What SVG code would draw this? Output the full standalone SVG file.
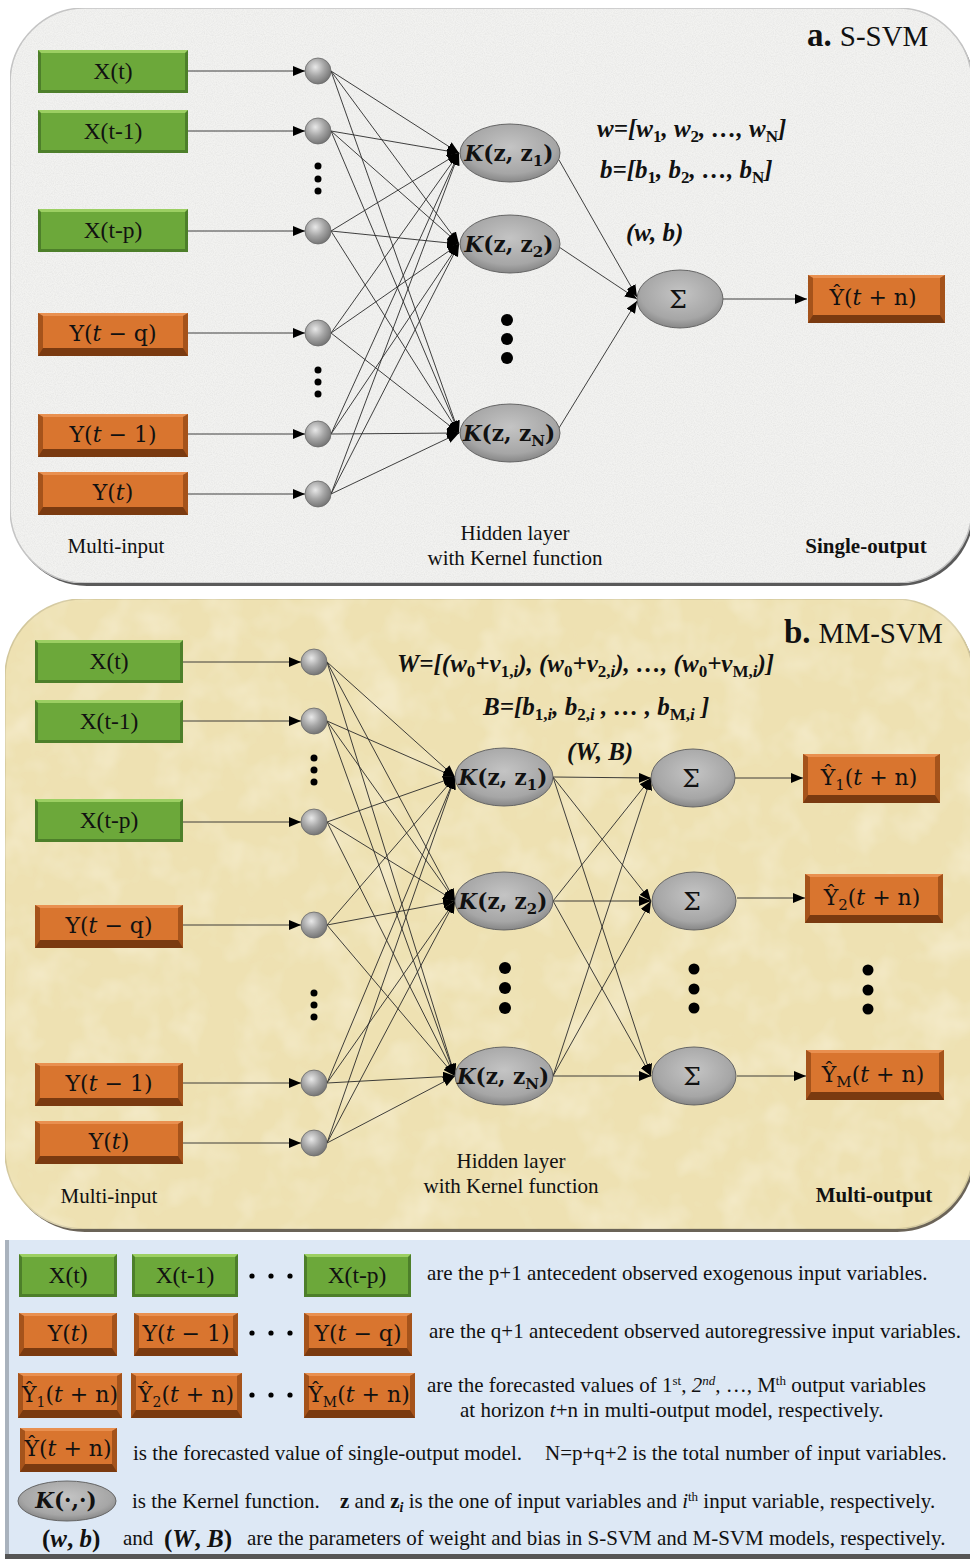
<svg xmlns="http://www.w3.org/2000/svg" width="970" height="1559" viewBox="0 0 970 1559">
<defs>
<radialGradient id="sph" cx="0.4" cy="0.35" r="0.7">
<stop offset="0" stop-color="#e8e8e8"/><stop offset="0.5" stop-color="#a5a5a5"/><stop offset="1" stop-color="#6f6f6f"/>
</radialGradient>
<radialGradient id="ell" cx="0.5" cy="0.4" r="0.65">
<stop offset="0" stop-color="#c4c4c4"/><stop offset="0.7" stop-color="#a6a6a6"/><stop offset="1" stop-color="#7c7c7c"/>
</radialGradient>
<marker id="ar" markerUnits="userSpaceOnUse" markerWidth="13" markerHeight="10" refX="12" refY="5" orient="auto">
<path d="M0,0 L12,5 L0,10 z" fill="#000"/>
</marker>
<filter id="grain" x="0" y="0" width="100%" height="100%">
<feTurbulence type="fractalNoise" baseFrequency="0.9" numOctaves="2" seed="3" result="n"/>
<feColorMatrix type="matrix" values="0 0 0 0 0.6  0 0 0 0 0.6  0 0 0 0 0.6  0 0 0 0.6 -0.22" in="n" result="g"/>
<feComposite in="g" in2="SourceGraphic" operator="in" result="gi"/>
<feMerge><feMergeNode in="SourceGraphic"/><feMergeNode in="gi"/></feMerge>
</filter>
<filter id="parch" x="0" y="0" width="100%" height="100%">
<feTurbulence type="fractalNoise" baseFrequency="0.025" numOctaves="3" seed="7" result="n"/>
<feColorMatrix type="matrix" values="0 0 0 0 1  0 0 0 0 0.96  0 0 0 0 0.84  0 0 0 0.7 -0.3" in="n" result="g"/>
<feComposite in="g" in2="SourceGraphic" operator="in" result="gi"/>
<feMerge><feMergeNode in="SourceGraphic"/><feMergeNode in="gi"/></feMerge>
</filter>
</defs>
<style>
.t{font-family:"Liberation Serif","Times New Roman",serif;fill:#111}
.m{font-family:"DejaVu Serif","Liberation Serif",serif;fill:#111}
.bl{font-size:23.5px;text-anchor:middle}
.ol{font-size:22px;text-anchor:middle}
.kl{font-size:21.5px;text-anchor:middle;font-weight:bold}
.sg{font-size:25px;text-anchor:middle}
.fm{font-size:25px;font-weight:bold;font-style:italic}
.lab{font-size:21px}
.lg{font-size:21px}
.g-e{fill:#4d7f2a}.g-t{fill:#9ccf62}.g-f{fill:#6ca83a}
.o-e{fill:#7a3a10}.o-s{fill:#a5531b}.o-t{fill:#e99050}.o-f{fill:#d9752f}
.sp{fill:url(#sph);stroke:#6a6a6a;stroke-width:0.8}
.el{fill:url(#ell);stroke:#666;stroke-width:1}
.dot{fill:#000}
.cn line{stroke:#2a2a2a;stroke-width:0.9;marker-end:url(#ar)}
</style>

<!-- Panel backgrounds -->
<rect x="12" y="11" width="962" height="575" rx="75" fill="#5a5a5a"/>
<rect x="10" y="8" width="962" height="575" rx="75" fill="#f2f2f0" stroke="#c4c4c4" stroke-width="1.5" filter="url(#grain)"/>
<rect x="7" y="602" width="968" height="630" rx="78" fill="#6b6458"/>
<rect x="5" y="599" width="968" height="630" rx="78" fill="#eee1b2" stroke="#d2c79c" stroke-width="1.5" filter="url(#parch)"/>
<rect x="5" y="1240" width="966" height="319" fill="#dde8f5"/>
<rect x="5" y="1240" width="4" height="319" fill="#a9b2bd"/>
<rect x="5" y="1554" width="966" height="5" fill="#555"/>

<!-- ================= Panel a connectors ================= -->
<g id="connectors-a" class="cn">
<line x1="188" y1="71" x2="305" y2="71"/>
<line x1="188" y1="131" x2="305" y2="131"/>
<line x1="188" y1="231" x2="305" y2="231"/>
<line x1="188" y1="333" x2="305" y2="333"/>
<line x1="188" y1="434" x2="305" y2="434"/>
<line x1="188" y1="494" x2="305" y2="494"/>
<line x1="331" y1="71" x2="459" y2="153"/><line x1="331" y1="71" x2="459" y2="244"/><line x1="331" y1="71" x2="459" y2="433"/>
<line x1="331" y1="131" x2="459" y2="153"/><line x1="331" y1="131" x2="459" y2="244"/><line x1="331" y1="131" x2="459" y2="433"/>
<line x1="331" y1="231" x2="459" y2="153"/><line x1="331" y1="231" x2="459" y2="244"/><line x1="331" y1="231" x2="459" y2="433"/>
<line x1="331" y1="333" x2="459" y2="153"/><line x1="331" y1="333" x2="459" y2="244"/><line x1="331" y1="333" x2="459" y2="433"/>
<line x1="331" y1="434" x2="459" y2="153"/><line x1="331" y1="434" x2="459" y2="244"/><line x1="331" y1="434" x2="459" y2="433"/>
<line x1="331" y1="494" x2="459" y2="153"/><line x1="331" y1="494" x2="459" y2="244"/><line x1="331" y1="494" x2="459" y2="433"/>
<line x1="559" y1="160" x2="637" y2="297"/>
<line x1="559" y1="247" x2="637" y2="299"/>
<line x1="559" y1="428" x2="637" y2="301"/>
<line x1="723" y1="299" x2="807" y2="299"/>
</g>

<!-- Panel a nodes -->
<g id="a-x-t"><rect class="g-e" x="38" y="50" width="150" height="43"/><path class="g-t" d="M38,50 H188 L185,53 H41 z"/><rect class="g-f" x="41" y="53" width="144" height="37"/><text class="t bl" x="113" y="79">X(t)</text></g>
<g id="a-x-t1"><rect class="g-e" x="38" y="110" width="150" height="43"/><path class="g-t" d="M38,110 H188 L185,113 H41 z"/><rect class="g-f" x="41" y="113" width="144" height="37"/><text class="t bl" x="113" y="139">X(t-1)</text></g>
<g id="a-x-tp"><rect class="g-e" x="38" y="209" width="150" height="43"/><path class="g-t" d="M38,209 H188 L185,212 H41 z"/><rect class="g-f" x="41" y="212" width="144" height="37"/><text class="t bl" x="113" y="238">X(t-p)</text></g>
<g id="a-y-tq"><rect class="o-e" x="38" y="313" width="150" height="43"/><path class="o-s" d="M38,313 L43,316 V348 L38,356 z M188,313 L183,316 V348 L188,356 z"/><path class="o-t" d="M38,313 H188 L183,316 H43 z"/><rect class="o-f" x="43" y="316" width="140" height="32"/><text class="m ol" x="113" y="341">Y(<tspan font-style="italic">t</tspan> − q)</text></g>
<g id="a-y-t1"><rect class="o-e" x="38" y="414" width="150" height="43"/><path class="o-s" d="M38,414 L43,417 V449 L38,457 z M188,414 L183,417 V449 L188,457 z"/><path class="o-t" d="M38,414 H188 L183,417 H43 z"/><rect class="o-f" x="43" y="417" width="140" height="32"/><text class="m ol" x="113" y="442">Y(<tspan font-style="italic">t</tspan> − 1)</text></g>
<g id="a-y-t"><rect class="o-e" x="38" y="472" width="150" height="43"/><path class="o-s" d="M38,472 L43,475 V507 L38,515 z M188,472 L183,475 V507 L188,515 z"/><path class="o-t" d="M38,472 H188 L183,475 H43 z"/><rect class="o-f" x="43" y="475" width="140" height="32"/><text class="m ol" x="113" y="500">Y(<tspan font-style="italic">t</tspan>)</text></g>

<g id="a-in1"><circle class="sp" cx="318" cy="71" r="13"/></g>
<g id="a-in2"><circle class="sp" cx="318" cy="131" r="13"/></g>
<g id="a-in3"><circle class="sp" cx="318" cy="231" r="13"/></g>
<g id="a-in4"><circle class="sp" cx="318" cy="333" r="13"/></g>
<g id="a-in5"><circle class="sp" cx="318" cy="434" r="13"/></g>
<g id="a-in6"><circle class="sp" cx="318" cy="494" r="13"/></g>
<g id="a-dots">
<circle class="dot" cx="318" cy="166" r="3.5"/><circle class="dot" cx="318" cy="179" r="3.5"/><circle class="dot" cx="318" cy="191" r="3.5"/>
<circle class="dot" cx="318" cy="370" r="3.5"/><circle class="dot" cx="318" cy="382" r="3.5"/><circle class="dot" cx="318" cy="394" r="3.5"/>
<circle class="dot" cx="507" cy="320" r="6"/><circle class="dot" cx="507" cy="339" r="6"/><circle class="dot" cx="507" cy="358" r="6"/>
</g>

<g id="a-k1"><ellipse class="el" cx="510" cy="153" rx="50" ry="29"/><text class="m kl" x="509" y="161"><tspan font-style="italic">K</tspan>(z, z<tspan font-size="15" dy="5">1</tspan><tspan dy="-5">)</tspan></text></g>
<g id="a-k2"><ellipse class="el" cx="510" cy="244" rx="50" ry="29"/><text class="m kl" x="509" y="252"><tspan font-style="italic">K</tspan>(z, z<tspan font-size="15" dy="5">2</tspan><tspan dy="-5">)</tspan></text></g>
<g id="a-kN"><ellipse class="el" cx="510" cy="433" rx="50" ry="29"/><text class="m kl" x="509" y="441"><tspan font-style="italic">K</tspan>(z, z<tspan font-size="15" dy="5">N</tspan><tspan dy="-5">)</tspan></text></g>
<g id="a-sum"><ellipse class="el" cx="680" cy="299" rx="43" ry="29"/><text class="m sg" x="678" y="308">Σ</text></g>
<g id="a-out"><rect class="o-e" x="808" y="275" width="137" height="48"/><path class="o-s" d="M808,275 L813,278 V315 L808,323 z M945,275 L940,278 V315 L945,323 z"/><path class="o-t" d="M808,275 H945 L940,278 H813 z"/><rect class="o-f" x="813" y="278" width="127" height="37"/><text class="m ol" x="873" y="305" font-size="23">Ŷ(<tspan font-style="italic">t</tspan> + n)</text></g>

<g id="a-labels">
<text class="t" x="807" y="46"><tspan font-weight="bold" font-size="33">a.</tspan><tspan font-size="29" dx="8">S-SVM</tspan></text>
<text class="t fm" x="597" y="137">w=[w<tspan font-size="17" font-style="normal" dy="5">1</tspan><tspan dy="-5">, w</tspan><tspan font-size="17" font-style="normal" dy="5">2</tspan><tspan dy="-5">, …, w</tspan><tspan font-size="17" font-style="normal" dy="5">N</tspan><tspan dy="-5">]</tspan></text>
<text class="t fm" x="600" y="178">b=[b<tspan font-size="17" font-style="normal" dy="5">1</tspan><tspan dy="-5">, b</tspan><tspan font-size="17" font-style="normal" dy="5">2</tspan><tspan dy="-5">, …, b</tspan><tspan font-size="17" font-style="normal" dy="5">N</tspan><tspan dy="-5">]</tspan></text>
<text class="t fm" x="626" y="241">(w, b)</text>
<text class="t lab" x="116" y="553" text-anchor="middle">Multi-input</text>
<text class="t lab" x="515" y="540" text-anchor="middle">Hidden layer</text>
<text class="t lab" x="515" y="565" text-anchor="middle">with Kernel function</text>
<text class="t lab" x="866" y="553" text-anchor="middle" font-weight="bold">Single-output</text>
</g>

<!-- ================= Panel b connectors ================= -->
<g id="connectors-b" class="cn">
<line x1="183" y1="662" x2="301" y2="662"/>
<line x1="183" y1="721" x2="301" y2="721"/>
<line x1="183" y1="822" x2="301" y2="822"/>
<line x1="183" y1="925" x2="301" y2="925"/>
<line x1="183" y1="1083" x2="301" y2="1083"/>
<line x1="183" y1="1143" x2="301" y2="1143"/>
<line x1="327" y1="662" x2="455" y2="777"/><line x1="327" y1="662" x2="455" y2="901"/><line x1="327" y1="662" x2="455" y2="1076"/>
<line x1="327" y1="721" x2="455" y2="777"/><line x1="327" y1="721" x2="455" y2="901"/><line x1="327" y1="721" x2="455" y2="1076"/>
<line x1="327" y1="822" x2="455" y2="777"/><line x1="327" y1="822" x2="455" y2="901"/><line x1="327" y1="822" x2="455" y2="1076"/>
<line x1="327" y1="925" x2="455" y2="777"/><line x1="327" y1="925" x2="455" y2="901"/><line x1="327" y1="925" x2="455" y2="1076"/>
<line x1="327" y1="1083" x2="455" y2="777"/><line x1="327" y1="1083" x2="455" y2="901"/><line x1="327" y1="1083" x2="455" y2="1076"/>
<line x1="327" y1="1143" x2="455" y2="777"/><line x1="327" y1="1143" x2="455" y2="901"/><line x1="327" y1="1143" x2="455" y2="1076"/>
<line x1="553" y1="777" x2="651" y2="778"/><line x1="553" y1="777" x2="651" y2="901"/><line x1="553" y1="777" x2="651" y2="1076"/>
<line x1="553" y1="901" x2="651" y2="778"/><line x1="553" y1="901" x2="651" y2="901"/><line x1="553" y1="901" x2="651" y2="1076"/>
<line x1="553" y1="1076" x2="651" y2="778"/><line x1="553" y1="1076" x2="651" y2="901"/><line x1="553" y1="1076" x2="651" y2="1076"/>
<line x1="735" y1="778" x2="803" y2="778"/>
<line x1="737" y1="898" x2="805" y2="898"/>
<line x1="737" y1="1076" x2="806" y2="1076"/>
</g>

<!-- Panel b nodes -->
<g id="b-x-t"><rect class="g-e" x="35" y="640" width="148" height="43"/><path class="g-t" d="M35,640 H183 L180,643 H38 z"/><rect class="g-f" x="38" y="643" width="142" height="37"/><text class="t bl" x="109" y="669">X(t)</text></g>
<g id="b-x-t1"><rect class="g-e" x="35" y="700" width="148" height="43"/><path class="g-t" d="M35,700 H183 L180,703 H38 z"/><rect class="g-f" x="38" y="703" width="142" height="37"/><text class="t bl" x="109" y="729">X(t-1)</text></g>
<g id="b-x-tp"><rect class="g-e" x="35" y="799" width="148" height="43"/><path class="g-t" d="M35,799 H183 L180,802 H38 z"/><rect class="g-f" x="38" y="802" width="142" height="37"/><text class="t bl" x="109" y="828">X(t-p)</text></g>
<g id="b-y-tq"><rect class="o-e" x="35" y="905" width="148" height="43"/><path class="o-s" d="M35,905 L40,908 V940 L35,948 z M183,905 L178,908 V940 L183,948 z"/><path class="o-t" d="M35,905 H183 L178,908 H40 z"/><rect class="o-f" x="40" y="908" width="138" height="32"/><text class="m ol" x="109" y="933">Y(<tspan font-style="italic">t</tspan> − q)</text></g>
<g id="b-y-t1"><rect class="o-e" x="35" y="1063" width="148" height="43"/><path class="o-s" d="M35,1063 L40,1066 V1098 L35,1106 z M183,1063 L178,1066 V1098 L183,1106 z"/><path class="o-t" d="M35,1063 H183 L178,1066 H40 z"/><rect class="o-f" x="40" y="1066" width="138" height="32"/><text class="m ol" x="109" y="1091">Y(<tspan font-style="italic">t</tspan> − 1)</text></g>
<g id="b-y-t"><rect class="o-e" x="35" y="1121" width="148" height="43"/><path class="o-s" d="M35,1121 L40,1124 V1156 L35,1164 z M183,1121 L178,1124 V1156 L183,1164 z"/><path class="o-t" d="M35,1121 H183 L178,1124 H40 z"/><rect class="o-f" x="40" y="1124" width="138" height="32"/><text class="m ol" x="109" y="1149">Y(<tspan font-style="italic">t</tspan>)</text></g>

<g id="b-in1"><circle class="sp" cx="314" cy="662" r="13"/></g>
<g id="b-in2"><circle class="sp" cx="314" cy="721" r="13"/></g>
<g id="b-in3"><circle class="sp" cx="314" cy="822" r="13"/></g>
<g id="b-in4"><circle class="sp" cx="314" cy="925" r="13"/></g>
<g id="b-in5"><circle class="sp" cx="314" cy="1083" r="13"/></g>
<g id="b-in6"><circle class="sp" cx="314" cy="1143" r="13"/></g>
<g id="b-dots">
<circle class="dot" cx="314" cy="758" r="3.5"/><circle class="dot" cx="314" cy="770" r="3.5"/><circle class="dot" cx="314" cy="782" r="3.5"/>
<circle class="dot" cx="314" cy="993" r="3.5"/><circle class="dot" cx="314" cy="1005" r="3.5"/><circle class="dot" cx="314" cy="1017" r="3.5"/>
<circle class="dot" cx="505" cy="968" r="6"/><circle class="dot" cx="505" cy="988" r="6"/><circle class="dot" cx="505" cy="1008" r="6"/>
<circle class="dot" cx="694" cy="969" r="5.5"/><circle class="dot" cx="694" cy="989" r="5.5"/><circle class="dot" cx="694" cy="1008" r="5.5"/>
<circle class="dot" cx="868" cy="970" r="5.5"/><circle class="dot" cx="868" cy="990" r="5.5"/><circle class="dot" cx="868" cy="1009" r="5.5"/>
</g>

<g id="b-k1"><ellipse class="el" cx="504" cy="777" rx="49" ry="29"/><text class="m kl" x="503" y="785"><tspan font-style="italic">K</tspan>(z, z<tspan font-size="15" dy="5">1</tspan><tspan dy="-5">)</tspan></text></g>
<g id="b-k2"><ellipse class="el" cx="504" cy="901" rx="49" ry="29"/><text class="m kl" x="503" y="909"><tspan font-style="italic">K</tspan>(z, z<tspan font-size="15" dy="5">2</tspan><tspan dy="-5">)</tspan></text></g>
<g id="b-kN"><ellipse class="el" cx="504" cy="1076" rx="49" ry="29"/><text class="m kl" x="503" y="1084"><tspan font-style="italic">K</tspan>(z, z<tspan font-size="15" dy="5">N</tspan><tspan dy="-5">)</tspan></text></g>
<g id="b-s1"><ellipse class="el" cx="693" cy="778" rx="42" ry="29"/><text class="m sg" x="691" y="787">Σ</text></g>
<g id="b-s2"><ellipse class="el" cx="694" cy="901" rx="42" ry="29"/><text class="m sg" x="692" y="910">Σ</text></g>
<g id="b-sM"><ellipse class="el" cx="694" cy="1076" rx="42" ry="29"/><text class="m sg" x="692" y="1085">Σ</text></g>
<g id="b-o1"><rect class="o-e" x="803" y="754" width="137" height="49"/><path class="o-s" d="M803,754 L808,757 V795 L803,803 z M940,754 L935,757 V795 L940,803 z"/><path class="o-t" d="M803,754 H940 L935,757 H808 z"/><rect class="o-f" x="808" y="757" width="127" height="38"/><text class="m ol" x="869" y="785" font-size="23">Ŷ<tspan font-size="15" dy="5">1</tspan><tspan dy="-5">(</tspan><tspan font-style="italic">t</tspan> + n)</text></g>
<g id="b-o2"><rect class="o-e" x="805" y="874" width="138" height="49"/><path class="o-s" d="M805,874 L810,877 V915 L805,923 z M943,874 L938,877 V915 L943,923 z"/><path class="o-t" d="M805,874 H943 L938,877 H810 z"/><rect class="o-f" x="810" y="877" width="128" height="38"/><text class="m ol" x="872" y="905" font-size="23">Ŷ<tspan font-size="15" dy="5">2</tspan><tspan dy="-5">(</tspan><tspan font-style="italic">t</tspan> + n)</text></g>
<g id="b-oM"><rect class="o-e" x="806" y="1050" width="138" height="50"/><path class="o-s" d="M806,1050 L811,1053 V1092 L806,1100 z M944,1050 L939,1053 V1092 L944,1100 z"/><path class="o-t" d="M806,1050 H944 L939,1053 H811 z"/><rect class="o-f" x="811" y="1053" width="128" height="39"/><text class="m ol" x="873" y="1082" font-size="23">Ŷ<tspan font-size="15" dy="5">M</tspan><tspan dy="-5">(</tspan><tspan font-style="italic">t</tspan> + n)</text></g>

<g id="b-labels">
<text class="t" x="784" y="643"><tspan font-weight="bold" font-size="33">b.</tspan><tspan font-size="29" dx="8">MM-SVM</tspan></text>
<text class="t fm" x="397" y="672">W=[(w<tspan font-size="17" font-style="normal" dy="5">0</tspan><tspan dy="-5">+v</tspan><tspan font-size="17" dy="5"><tspan font-style="normal">1,</tspan>i</tspan><tspan dy="-5">), (w</tspan><tspan font-size="17" font-style="normal" dy="5">0</tspan><tspan dy="-5">+v</tspan><tspan font-size="17" dy="5"><tspan font-style="normal">2,</tspan>i</tspan><tspan dy="-5">), …, (w</tspan><tspan font-size="17" font-style="normal" dy="5">0</tspan><tspan dy="-5">+v</tspan><tspan font-size="17" dy="5"><tspan font-style="normal">M,</tspan>i</tspan><tspan dy="-5">)]</tspan></text>
<text class="t fm" x="483" y="715">B=[b<tspan font-size="17" dy="5"><tspan font-style="normal">1,</tspan>i</tspan><tspan dy="-5">, b</tspan><tspan font-size="17" dy="5"><tspan font-style="normal">2,</tspan>i</tspan><tspan dy="-5"> , … , b</tspan><tspan font-size="17" dy="5"><tspan font-style="normal">M,</tspan>i</tspan><tspan dy="-5"> ]</tspan></text>
<text class="t fm" x="567" y="760">(W, B)</text>
<text class="t lab" x="109" y="1203" text-anchor="middle">Multi-input</text>
<text class="t lab" x="511" y="1168" text-anchor="middle">Hidden layer</text>
<text class="t lab" x="511" y="1193" text-anchor="middle">with Kernel function</text>
<text class="t lab" x="874" y="1202" text-anchor="middle" font-weight="bold">Multi-output</text>
</g>

<!-- ================= Legend ================= -->
<g id="leg-x-t"><rect class="g-e" x="19" y="1254" width="98" height="43"/><path class="g-t" d="M19,1254 H117 L114,1257 H22 z"/><rect class="g-f" x="22" y="1257" width="92" height="37"/><text class="t bl" x="68" y="1283">X(t)</text></g>
<g id="leg-x-t1"><rect class="g-e" x="132" y="1254" width="106" height="43"/><path class="g-t" d="M132,1254 H238 L235,1257 H135 z"/><rect class="g-f" x="135" y="1257" width="100" height="37"/><text class="t bl" x="185" y="1283">X(t-1)</text></g>
<g id="leg-x-tp"><rect class="g-e" x="304" y="1254" width="107" height="43"/><path class="g-t" d="M304,1254 H411 L408,1257 H307 z"/><rect class="g-f" x="307" y="1257" width="101" height="37"/><text class="t bl" x="357" y="1283">X(t-p)</text></g>

<g id="leg-y-t"><rect class="o-e" x="19" y="1313" width="98" height="43"/><path class="o-s" d="M19,1313 L24,1316 V1348 L19,1356 z M117,1313 L112,1316 V1348 L117,1356 z"/><path class="o-t" d="M19,1313 H117 L112,1316 H24 z"/><rect class="o-f" x="24" y="1316" width="88" height="32"/><text class="m ol" x="68" y="1341">Y(<tspan font-style="italic">t</tspan>)</text></g>
<g id="leg-y-t1"><rect class="o-e" x="134" y="1313" width="104" height="43"/><path class="o-s" d="M134,1313 L139,1316 V1348 L134,1356 z M238,1313 L233,1316 V1348 L238,1356 z"/><path class="o-t" d="M134,1313 H238 L233,1316 H139 z"/><rect class="o-f" x="139" y="1316" width="94" height="32"/><text class="m ol" x="186" y="1341">Y(<tspan font-style="italic">t</tspan> − 1)</text></g>
<g id="leg-y-tq"><rect class="o-e" x="304" y="1313" width="108" height="43"/><path class="o-s" d="M304,1313 L309,1316 V1348 L304,1356 z M412,1313 L407,1316 V1348 L412,1356 z"/><path class="o-t" d="M304,1313 H412 L407,1316 H309 z"/><rect class="o-f" x="309" y="1316" width="98" height="32"/><text class="m ol" x="358" y="1341">Y(<tspan font-style="italic">t</tspan> − q)</text></g>

<g id="leg-o1"><rect class="o-e" x="18" y="1373" width="104" height="45"/><path class="o-s" d="M18,1373 L23,1376 V1410 L18,1418 z M122,1373 L117,1376 V1410 L122,1418 z"/><path class="o-t" d="M18,1373 H122 L117,1376 H23 z"/><rect class="o-f" x="23" y="1376" width="94" height="34"/><text class="m ol" x="70" y="1402" font-size="21">Ŷ<tspan font-size="14" dy="5">1</tspan><tspan dy="-5">(</tspan><tspan font-style="italic">t</tspan> + n)</text></g>
<g id="leg-o2"><rect class="o-e" x="131" y="1373" width="111" height="45"/><path class="o-s" d="M131,1373 L136,1376 V1410 L131,1418 z M242,1373 L237,1376 V1410 L242,1418 z"/><path class="o-t" d="M131,1373 H242 L237,1376 H136 z"/><rect class="o-f" x="136" y="1376" width="101" height="34"/><text class="m ol" x="186" y="1402" font-size="21">Ŷ<tspan font-size="14" dy="5">2</tspan><tspan dy="-5">(</tspan><tspan font-style="italic">t</tspan> + n)</text></g>
<g id="leg-oM"><rect class="o-e" x="304" y="1373" width="111" height="45"/><path class="o-s" d="M304,1373 L309,1376 V1410 L304,1418 z M415,1373 L410,1376 V1410 L415,1418 z"/><path class="o-t" d="M304,1373 H415 L410,1376 H309 z"/><rect class="o-f" x="309" y="1376" width="101" height="34"/><text class="m ol" x="359" y="1402" font-size="21">Ŷ<tspan font-size="14" dy="5">M</tspan><tspan dy="-5">(</tspan><tspan font-style="italic">t</tspan> + n)</text></g>
<g id="leg-o"><rect class="o-e" x="20" y="1428" width="97" height="44"/><path class="o-s" d="M20,1428 L25,1431 V1464 L20,1472 z M117,1428 L112,1431 V1464 L117,1472 z"/><path class="o-t" d="M20,1428 H117 L112,1431 H25 z"/><rect class="o-f" x="25" y="1431" width="87" height="33"/><text class="m ol" x="68" y="1456" font-size="21">Ŷ(<tspan font-style="italic">t</tspan> + n)</text></g>
<g id="leg-k"><ellipse class="el" cx="67" cy="1501" rx="49" ry="20"/><text class="m kl" x="66" y="1508"><tspan font-style="italic">K</tspan>(·,·)</text></g>

<g id="leg-dots">
<circle class="dot" cx="252" cy="1276" r="2.6"/><circle class="dot" cx="271" cy="1276" r="2.6"/><circle class="dot" cx="290" cy="1276" r="2.6"/>
<circle class="dot" cx="252" cy="1333" r="2.6"/><circle class="dot" cx="271" cy="1333" r="2.6"/><circle class="dot" cx="290" cy="1333" r="2.6"/>
<circle class="dot" cx="252" cy="1395" r="2.6"/><circle class="dot" cx="271" cy="1395" r="2.6"/><circle class="dot" cx="290" cy="1395" r="2.6"/>
</g>

<g id="leg-text">
<text class="t lg" x="427" y="1280">are the p+1 antecedent observed exogenous input variables.</text>
<text class="t lg" x="429" y="1338">are the q+1 antecedent observed autoregressive input variables.</text>
<text class="t lg" x="427" y="1392">are the forecasted values of 1<tspan font-size="13" dy="-7">st</tspan><tspan dy="7">, </tspan><tspan font-style="italic">2</tspan><tspan font-style="italic" font-size="13" dy="-7">nd</tspan><tspan dy="7">, …, M</tspan><tspan font-size="13" dy="-7">th</tspan><tspan dy="7"> output variables</tspan></text>
<text class="t lg" x="460" y="1417">at horizon <tspan font-style="italic">t</tspan>+n in multi-output model, respectively.</text>
<text class="t lg" x="133" y="1460">is the forecasted value of single-output model.</text>
<text class="t lg" x="545" y="1460">N=p+q+2 is the total number of input variables.</text>
<text class="t lg" x="132" y="1508">is the Kernel function.</text>
<text class="t lg" x="340" y="1508"><tspan font-weight="bold">z</tspan> and <tspan font-weight="bold">z</tspan><tspan font-weight="bold" font-style="italic" font-size="14" dy="4">i</tspan><tspan dy="-4"> is the one of input variables and </tspan><tspan font-style="italic">i</tspan><tspan font-size="13" dy="-7">th</tspan><tspan dy="7"> input variable, respectively.</tspan></text>
<text class="t" x="42" y="1547" font-size="25" font-weight="bold">(<tspan font-style="italic">w</tspan>, <tspan font-style="italic">b</tspan>)</text>
<text class="t lg" x="123" y="1545">and</text>
<text class="t" x="164" y="1547" font-size="25" font-weight="bold">(<tspan font-style="italic">W</tspan>, <tspan font-style="italic">B</tspan>)</text>
<text class="t lg" x="247" y="1545">are the parameters of weight and bias in S-SVM and M-SVM models, respectively.</text>
</g>
</svg>
